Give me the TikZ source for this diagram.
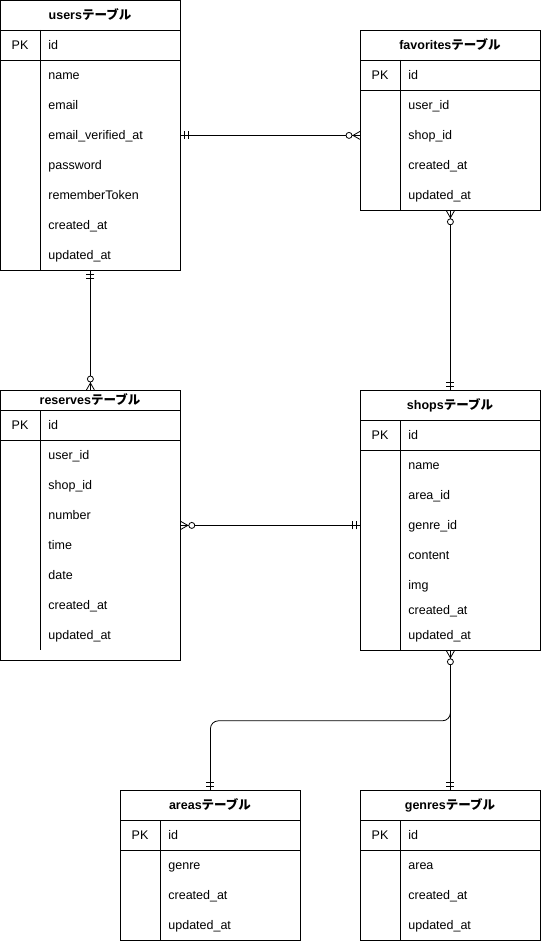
\documentclass[tikz,border=0pt]{standalone}
\usepackage{fontspec}
\setmainfont{Liberation Sans}
\newfontfamily\jpfont{Noto Sans CJK JP}
\usetikzlibrary{positioning}

\tikzset{
  tbl/.style={draw, line width=0.8pt, anchor=north west, inner sep=0pt, minimum width=180pt},
  fld/.style={anchor=west, inner sep=0pt, text height=9pt, text depth=0pt, font=\fontsize{12.5}{14}\selectfont},
  pk/.style={inner sep=0pt, text height=9pt, text depth=0pt, font=\fontsize{12.5}{14}\selectfont},
  ttl/.style={inner sep=0pt, text height=9pt, text depth=0pt, font=\fontsize{12.5}{14}\selectfont\bfseries},
  rel/.style={line width=0.8pt},
  one/.pic={\draw[rel] (4,-4) -- (4,4) (8,-4) -- (8,4);},
  zmany/.pic={\draw[rel] (7,0) -- (0,-4) (7,0) -- (0,0) (7,0) -- (0,4);
              \draw[rel, fill=white] (11,0) circle (3pt);}
}

\begin{document}
\begin{tikzpicture}[x=1pt, y=-1pt, line width=0.8pt]

\useasboundingbox (0,0) rectangle (542,942);

%users table
\node[tbl, minimum height=270pt] (users) at (0,0) {};
\draw (0,30) -- (180,30) (0,60) -- (180,60) (40,30) -- (40,270);
\node[ttl] (users-t) at (90,15) {users\jpfont テーブル};
\node[pk] (users-pk) at (20,45) {PK};
\node[fld] (users-id) at (48,45) {id};
\foreach \f [count=\i] in {name,email,email\_verified\_at,password,rememberToken,created\_at,updated\_at}
\node[fld] (users-\i) at (48,45+30*\i) {\f};

%favorites table
\node[tbl, minimum height=180pt] (fav) at (360,30) {};
\draw (360,60) -- (540,60) (360,90) -- (540,90) (400,60) -- (400,210);
\node[ttl] (fav-t) at (450,45) {favorites\jpfont テーブル};
\node[pk] (fav-pk) at (380,75) {PK};
\node[fld] (fav-id) at (408,75) {id};
\foreach \f [count=\i] in {user\_id,shop\_id,created\_at,updated\_at}
\node[fld] (fav-\i) at (408,75+30*\i) {\f};

%reserves table
\node[tbl, minimum height=270pt] (res) at (0,390) {};
\draw (0,410) -- (180,410) (0,440) -- (180,440) (40,410) -- (40,650);
\node[ttl] (res-t) at (90,400) {reserves\jpfont テーブル};
\node[pk] (res-pk) at (20,425) {PK};
\node[fld] (res-id) at (48,425) {id};
\foreach \f [count=\i] in {user\_id,shop\_id,number,time,date,created\_at,updated\_at}
\node[fld] (res-\i) at (48,425+30*\i) {\f};

%shops table
\node[tbl, minimum height=260pt] (shops) at (360,390) {};
\draw (360,420) -- (540,420) (360,450) -- (540,450) (400,420) -- (400,650);
\node[ttl] (shops-t) at (450,405) {shops\jpfont テーブル};
\node[pk] (shops-pk) at (380,435) {PK};
\node[fld] (shops-id) at (408,435) {id};
\foreach \f/\y [count=\i] in {name/465,area\_id/495,genre\_id/525,content/555,img/585,created\_at/610,updated\_at/635}
\node[fld] (shops-\i) at (408,\y) {\f};

%areas table
\node[tbl, minimum height=150pt] (areas) at (120,790) {};
\draw (120,820) -- (300,820) (120,850) -- (300,850) (160,820) -- (160,940);
\node[ttl] (areas-t) at (210,805) {areas\jpfont テーブル};
\node[pk] (areas-pk) at (140,835) {PK};
\node[fld] (areas-id) at (168,835) {id};
\foreach \f [count=\i] in {genre,created\_at,updated\_at}
\node[fld] (areas-\i) at (168,835+30*\i) {\f};

%genres table
\node[tbl, minimum height=150pt] (genres) at (360,790) {};
\draw (360,820) -- (540,820) (360,850) -- (540,850) (400,820) -- (400,940);
\node[ttl] (genres-t) at (450,805) {genres\jpfont テーブル};
\node[pk] (genres-pk) at (380,835) {PK};
\node[fld] (genres-id) at (408,835) {id};
\foreach \f [count=\i] in {area,created\_at,updated\_at}
\node[fld] (genres-\i) at (408,835+30*\i) {\f};

%draw relations
\draw[rel] (users.east) -- (users.east -| fav.west);
\pic at (users.east) {one};
\pic[rotate=180] at (users.east -| fav.west) {zmany};

\draw[rel] (users.south) -- (res.north);
\pic[rotate=-90] at (users.south) {one};
\pic[rotate=90] at (res.north) {zmany};

\draw[rel] (fav.south) -- (shops.north);
\pic[rotate=-90] at (fav.south) {zmany};
\pic[rotate=90] at (shops.north) {one};

\draw[rel] (res.east) -- (res.east -| shops.west);
\pic at (res.east) {zmany};
\pic[rotate=180] at (res.east -| shops.west) {one};

\draw[rel, rounded corners=8pt] (shops.south) -- ++(0,70) -| (areas.north);
\draw[rel] (shops.south) -- (genres.north);
\pic[rotate=-90] at (shops.south) {zmany};
\pic[rotate=90] at (areas.north) {one};
\pic[rotate=90] at (genres.north) {one};

\end{tikzpicture}
\end{document}
